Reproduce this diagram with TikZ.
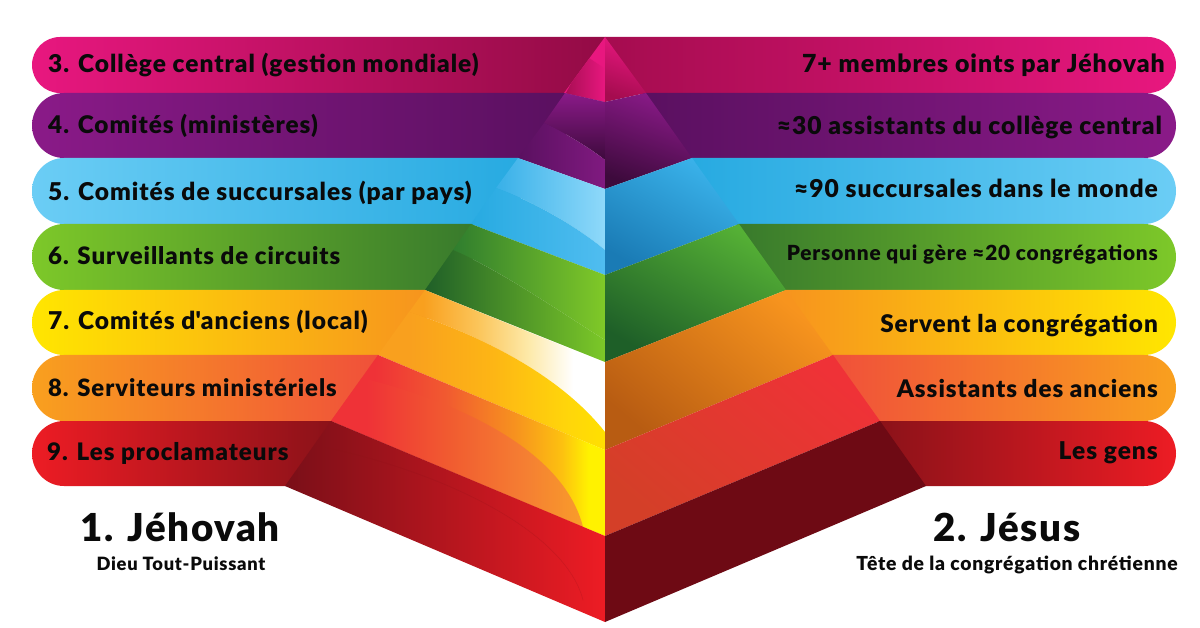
\documentclass[tikz,border=0pt]{standalone}
\usepackage{fontspec}
\setmainfont[LetterSpace=4,BoldFont={Lato Black}]{Lato}
\def\hexc#1#2{\definecolor{#1}{HTML}{#2}}
\hexc{aa}{E8177F}\hexc{ab}{930B45}\hexc{ac}{A50C4F}
\hexc{ba}{8A1A88}\hexc{bb}{5A1060}
\hexc{ca}{6BCDF5}\hexc{cb}{27AAE1}
\hexc{da}{7DC829}\hexc{db}{387A2C}
\hexc{ea}{FFE600}\hexc{eb}{F7941E}
\hexc{fa}{F9A01E}\hexc{fb}{F0503A}
\hexc{ga}{ED1C24}\hexc{gb}{8B1219}
% row faces
\hexc{p1}{A00D4E}\hexc{p2}{3D0A3C}\hexc{p3}{801A80}
\hexc{q1}{38B0E8}\hexc{q2}{8FD9FA}\hexc{q3}{50BDF0}\hexc{q4}{1A7BB5}\hexc{q5}{3AB2EA}
\hexc{r1}{2F7D2E}\hexc{r2}{80C928}\hexc{r3}{1F5F28}\hexc{r4}{7CC828}\hexc{r5}{55B035}\hexc{r6}{1E5F28}
\hexc{s1}{FBC55A}\hexc{s2}{FDE9A8}\hexc{s3}{FDB515}\hexc{s4}{FFD60A}\hexc{s5}{FFE000}\hexc{s6}{B85C12}
\hexc{t1}{EF3237}\hexc{t2}{F15A30}\hexc{t3}{F7941E}\hexc{t4}{FDC010}\hexc{t5}{FFF200}\hexc{t6}{F58032}\hexc{t7}{F99D2A}\hexc{t8}{D43F28}
\hexc{u1}{7A0F18}\hexc{u2}{6E0A14}
\hexc{ink}{0A0A0A}
\pgfdeclarehorizontalshading{rowfive}{100bp}{color(0bp)=(fa);color(35bp)=(fa);color(47bp)=(s1);color(58bp)=(s2);color(68bp)=(white);color(100bp)=(white)}
\pgfdeclarehorizontalshading{rowfivein}{100bp}{color(0bp)=(fa);color(32bp)=(fa);color(50bp)=(s3);color(67bp)=(s4);color(75bp)=(s5);color(100bp)=(s5)}
\pgfdeclarehorizontalshading{rowsix}{100bp}{color(0bp)=(t1);color(33bp)=(t1);color(46bp)=(t2);color(59bp)=(t3);color(67bp)=(t4);color(72bp)=(t5);color(100bp)=(t5)}
\pgfdeclarehorizontalshading{rowsixin}{100bp}{color(0bp)=(t1);color(32bp)=(t1);color(48bp)=(t2);color(64bp)=(t6);color(75bp)=(t7);color(100bp)=(t7)}
\tikzset{
  fs/.style={font=\bfseries\fontsize{#1}{28}\selectfont},
  lab/.style={fs=24.5,text=ink,inner sep=0pt,anchor=base west},
  labr/.style={lab,anchor=base east},
  head/.style={fs=38.5,text=ink,inner sep=0pt,anchor=base},
  sub/.style={fs=18.3,text=ink,inner sep=0pt,anchor=base},
}
\begin{document}
\begin{tikzpicture}[x=1pt,y=-1pt]
\useasboundingbox (0,0) rectangle (1200,628);
\fill[white] (0,0) rectangle (1200,628);
% left bands
\shade[left color=aa,right color=ab] (60,37) arc[start angle=90,end angle=270,x radius=28,y radius=-28] -- (605,93) -- (605,37) -- cycle;
\shade[left color=ba,right color=bb] (64,93) arc[start angle=90,end angle=270,x radius=32,y radius=-32.5] -- (566,158) -- (566,93) -- cycle;
\shade[left color=ca,right color=cb] (64,158) arc[start angle=90,end angle=270,x radius=32,y radius=-33] -- (520,224) -- (520,158) -- cycle;
\shade[left color=da,right color=db] (64,224) arc[start angle=90,end angle=270,x radius=32,y radius=-33] -- (473,290) -- (473,224) -- cycle;
\shade[left color=ea,right color=eb] (64,290) arc[start angle=90,end angle=270,x radius=32,y radius=-32.5] -- (426,355) -- (426,290) -- cycle;
\shade[left color=fa,right color=fb] (64,355) arc[start angle=90,end angle=270,x radius=32,y radius=-33] -- (379,421) -- (379,355) -- cycle;
\shade[left color=ga,right color=gb] (64,421) arc[start angle=90,end angle=270,x radius=32,y radius=-32.5] -- (332,486) -- (332,421) -- cycle;
% right bands
\shade[left color=ac,right color=aa] (605,37) -- (1148,37) arc[start angle=90,end angle=-90,x radius=28,y radius=-28] -- (605,93) -- cycle;
\shade[left color=bb,right color=ba] (640,93) -- (1144,93) arc[start angle=90,end angle=-90,x radius=32,y radius=-32.5] -- (640,158) -- cycle;
\shade[left color=cb,right color=ca] (690,158) -- (1144,158) arc[start angle=90,end angle=-90,x radius=32,y radius=-33] -- (690,224) -- cycle;
\shade[left color=db,right color=da] (737,224) -- (1144,224) arc[start angle=90,end angle=-90,x radius=32,y radius=-33] -- (737,290) -- cycle;
\shade[left color=eb,right color=ea] (784,290) -- (1144,290) arc[start angle=90,end angle=-90,x radius=32,y radius=-32.5] -- (784,355) -- cycle;
\shade[left color=fb,right color=fa] (831,355) -- (1144,355) arc[start angle=90,end angle=-90,x radius=32,y radius=-33] -- (831,421) -- cycle;
\shade[left color=gb,right color=ga] (878,421) -- (1144,421) arc[start angle=90,end angle=-90,x radius=32,y radius=-32.5] -- (878,486) -- cycle;
% pyramid, left faces
\fill[aa] (605,37) -- (605,102) -- (564,93) -- cycle;
\begin{scope}
\clip (605,37) -- (605,102) -- (564,93) -- cycle;
\shade[left color=p1,right color=aa] (586,56) -- (604,68) -- (605,68) -- (605,104) -- (560,104) -- cycle;
\end{scope}
\shade[top color=ba,bottom color=p2] (565,93) -- (605,102) -- (605,160) .. controls (590,148) and (560,130) .. (544,123) -- cycle;
\shade[left color=bb,right color=p3] (544,123) .. controls (560,130) and (590,148) .. (605,160) -- (605,189) -- (518,158) -- cycle;
\shade[left color=q1,right color=q2] (518,158) -- (605,189) -- (605,250) .. controls (575,225) and (530,200) .. (496,188) -- cycle;
\shade[left color=cb,right color=q3] (496,188) .. controls (530,200) and (575,225) .. (605,250) -- (605,275) -- (471,224) -- cycle;
\shade[left color=r1,right color=r2] (471,224) -- (605,275) -- (605,340) .. controls (565,315) and (500,270) .. (453,250) -- cycle;
\shade[left color=r3,right color=r4] (453,250) .. controls (500,270) and (565,315) .. (605,340) -- (605,362) -- (425,290) -- cycle;
\shade[shading=rowfive] (425,290) -- (605,363) -- (605,432) .. controls (560,375) and (480,335) .. (409,312) -- (378,355) -- cycle;
\shade[shading=rowfivein] (409,312) .. controls (480,335) and (560,375) .. (605,432) -- (605,450) -- (378,355) -- cycle;
\shade[shading=rowsix] (378,355) -- (605,450) -- (605,536) -- (331,421) -- cycle;
\shade[shading=rowsixin] (362,378) .. controls (470,405) and (565,455) .. (583,527) -- (331,421) -- cycle;
\shade[left color=u1,right color=ga] (331,421) -- (605,536) -- (605,622) -- (285,486) -- cycle;
\draw[gb,opacity=.25,line width=.5pt] (314,445) .. controls (440,470) and (565,530) .. (583,600);
% pyramid, right faces
\shade[top color=aa,bottom color=ac,shading angle=-20] (605,37) -- (646,93) -- (605,102) -- cycle;
\shade[top color=ba,bottom color=p2,shading angle=-20] (605,102) -- (646,93) -- (692,158) -- (605,189) -- cycle;
\shade[top color=q5,bottom color=q4,shading angle=-30] (605,189) -- (692,158) -- (739,224) -- (605,275) -- cycle;
\shade[top color=r5,bottom color=r6,shading angle=-30] (605,275) -- (739,224) -- (786,290) -- (605,362) -- cycle;
\shade[top color=eb,bottom color=s6,shading angle=-40] (605,362) -- (786,290) -- (833,355) -- (605,450) -- cycle;
\shade[top color=t1,bottom color=t8,shading angle=-40] (605,450) -- (833,355) -- (880,421) -- (605,536) -- cycle;
\fill[u2] (605,536) -- (880,421) -- (926,486) -- (605,622) -- cycle;
% labels
\node[lab] (l3) at (48,73) {3. Collège central (gestion mondiale)};
\node[lab,fs=24.3] (l4) at (48,134) {4. Comités (ministères)};
\node[lab] (l5) at (48,201) {5. Comités de succursales (par pays)};
\node[lab,fs=24] (l6) at (48,265) {6. Surveillants de circuits};
\node[lab] (l7) at (48,330) {7. Comités d\textquotesingle anciens (local)};
\node[lab,fs=23.85] (l8) at (48,396) {8. Serviteurs ministériels};
\node[lab,fs=24.1] (l9) at (47,460) {9. Les proclamateurs};
\node[labr,fs=24.85] (r3) at (1165,73) {7+ membres oints par Jéhovah};
\node[labr,fs=24.6] (r4) at (1162,134.5) {≈30 assistants du collège central};
\node[labr,fs=24.6] (r5) at (1158,198) {≈90 succursales dans le monde};
\node[labr,fs=20.8] (r6) at (1158,261) {Personne qui gère ≈20 congrégations};
\node[labr,fs=24.3] (r7) at (1158,333) {Servent la congrégation};
\node[labr,fs=24.2] (r8) at (1158,397) {Assistants des anciens};
\node[labr] (r9) at (1158,459) {Les gens};
\node[head] (h1) at (180,541.5) {1. Jéhovah};
\node[sub] (s1) at (181,570) {Dieu Tout-Puissant};
\node[head] (h2) at (1007,541) {2. Jésus};
\node[sub,fs=19.3] (s2) at (1017,570) {Tête de la congrégation chrétienne};
\end{tikzpicture}
\end{document}
